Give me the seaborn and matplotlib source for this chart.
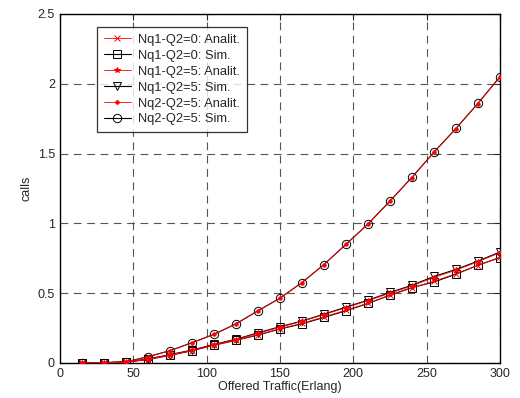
import numpy as np
import pandas as pd
import seaborn as sns
import matplotlib.pyplot as plt

# offered traffic (Erlang)
traffic = [15, 30, 45, 60, 75, 90, 105, 120, 135, 150,
           165, 180, 195, 210, 225, 240, 255, 270, 285, 300]

# Nq1, Q2=0
nq1_q0_sim = [0.0, 0.002, 0.006, 0.025, 0.055, 0.088, 0.128, 0.162, 0.200, 0.243,
              0.280, 0.326, 0.374, 0.426, 0.486, 0.540, 0.580, 0.636, 0.700, 0.755]
nq1_q0_an = [0.0, 0.002, 0.006, 0.024, 0.054, 0.087, 0.126, 0.163, 0.202, 0.245,
             0.284, 0.330, 0.378, 0.428, 0.484, 0.538, 0.585, 0.640, 0.698, 0.758]
# Nq1, Q2=5
nq1_q5_sim = [0.0, 0.002, 0.007, 0.028, 0.060, 0.092, 0.133, 0.170, 0.216, 0.260,
              0.300, 0.350, 0.400, 0.450, 0.505, 0.557, 0.620, 0.670, 0.730, 0.795]
nq1_q5_an = [0.0, 0.002, 0.007, 0.027, 0.058, 0.090, 0.131, 0.168, 0.212, 0.256,
             0.298, 0.346, 0.396, 0.446, 0.500, 0.552, 0.612, 0.665, 0.725, 0.790]
# Nq2, Q2=5
nq2_q5_sim = [0.0, 0.003, 0.008, 0.045, 0.088, 0.145, 0.205, 0.280, 0.374, 0.464,
              0.576, 0.705, 0.850, 0.995, 1.160, 1.330, 1.510, 1.680, 1.860, 2.050]
nq2_q5_an = [0.0, 0.003, 0.008, 0.044, 0.087, 0.144, 0.204, 0.279, 0.372, 0.463,
             0.575, 0.704, 0.849, 0.994, 1.158, 1.328, 1.508, 1.678, 1.858, 2.048]

series = [
    ("Nq1-Q2=0: Analit.", nq1_q0_an, "red", "x"),
    ("Nq1-Q2=0: Sim.", nq1_q0_sim, "black", "s"),
    ("Nq1-Q2=5: Analit.", nq1_q5_an, "red", "*"),
    ("Nq1-Q2=5: Sim.", nq1_q5_sim, "black", "v"),
    ("Nq2-Q2=5: Analit.", nq2_q5_an, "red", "."),
    ("Nq2-Q2=5: Sim.", nq2_q5_sim, "black", "o"),
]

sns.set_style("white")
plt.rcParams['font.family'] = ['Liberation Sans', 'DejaVu Sans']

fig = plt.figure(figsize=(5.2, 3.98), dpi=100)
ax = fig.add_axes([0.115, 0.088, 0.8465, 0.877])

for name, vals, col, mk in series:
    df = pd.DataFrame({"x": traffic, "y": vals})
    if col == "black":
        sns.lineplot(data=df, x="x", y="y", ax=ax, color="black", lw=0.8,
                     marker=mk, markersize=6, markerfacecolor="none",
                     markeredgecolor="black", markeredgewidth=0.7,
                     label=name, zorder=3)
    else:
        sns.lineplot(data=df, x="x", y="y", ax=ax, color="red", lw=0.6,
                     marker=mk, markersize=4 if mk != "." else 5,
                     markeredgecolor="red", markeredgewidth=0.7,
                     label=name, zorder=4)

ax.set_xlim(0, 300)
ax.set_ylim(0, 2.5)
ax.set_xticks(range(0, 301, 50))
ax.set_yticks([0, 0.5, 1, 1.5, 2, 2.5])
ax.set_yticklabels(["0", "0.5", "1", "1.5", "2", "2.5"])
ax.grid(True, color="#555555", linestyle=(0, (7, 5)), lw=0.8)
ax.tick_params(direction="in", top=True, right=True, labelsize=9, length=4)
for s in ax.spines.values():
    s.set_color("black")
    s.set_linewidth(1.0)
ax.set_xlabel("Offered Traffic(Erlang)", fontsize=9, labelpad=1)
ax.set_ylabel("calls", fontsize=9, labelpad=4)

leg = ax.legend(loc="upper left", bbox_to_anchor=(0.07, 0.98), fontsize=9.3,
                frameon=True, fancybox=False, edgecolor="black",
                handlelength=2.1, labelspacing=0.3, borderpad=0.5,
                handletextpad=0.6)
leg.get_frame().set_linewidth(0.9)

fig.savefig("out.png", dpi=100)
